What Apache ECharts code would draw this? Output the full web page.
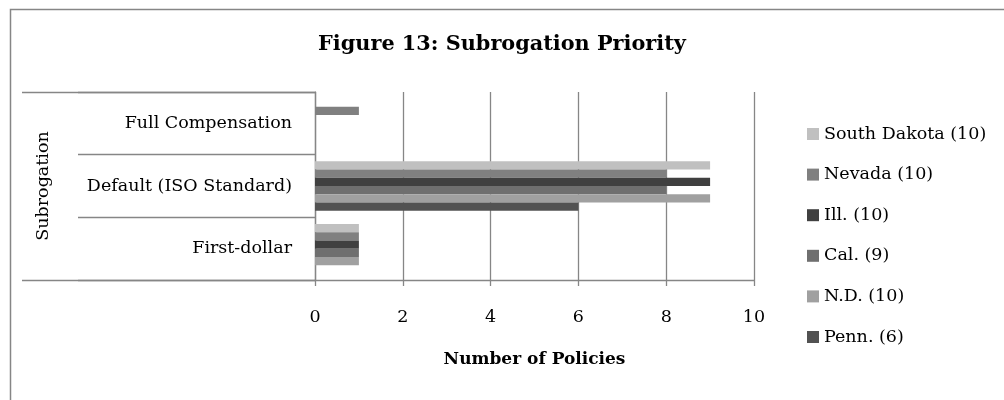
<!DOCTYPE html>
<html>
<head>
<meta charset="utf-8">
<script src="https://cdn.jsdelivr.net/npm/echarts@6/dist/echarts.min.js"></script>
<style>html,body{margin:0;padding:0;background:#fff}#c{width:1004px;height:400px}</style>
</head>
<body>
<div id="c"></div>
<script>
const categories = ['First-dollar', 'Default (ISO Standard)', 'Full Compensation'];
const seriesNames = ['South Dakota (10)', 'Nevada (10)', 'Ill. (10)', 'Cal. (9)', 'N.D. (10)', 'Penn. (6)'];
const southDakota = [1, 9, 0];
const nevada = [1, 8, 1];
const ill = [1, 9, 0];
const cal = [1, 8, 0];
const nd = [1, 9, 0];
const penn = [0, 6, 0];
const xTicks = [0, 10, 2];
const titleText = 'Figure 13: Subrogation Priority';
const xName = 'Number of Policies';
const groupName = 'Subrogation';

const values = [southDakota, nevada, ill, cal, nd, penn];
const colors = ['#c0c0c0', '#808080', '#404040', '#6f6f6f', '#a0a0a0', '#525252'];
const lineColor = '#868686';
const font = 'DejaVu Serif';
const fs = 17.5;

const chart = echarts.init(document.getElementById('c'), null, {renderer: 'canvas'});
chart.setOption({
  animation: false,
  backgroundColor: '#fff',
  textStyle: {fontFamily: font},
  title: {
    text: titleText, left: 'center', top: 34, padding: [0, 0, 0, 21],
    textStyle: {fontFamily: font, fontWeight: 'bold', fontSize: 20.8, color: '#000'}
  },
  graphic: [{
    type: 'rect', left: 8, top: 7, shape: {width: 1200, height: 600},
    style: {fill: 'none', stroke: lineColor, lineWidth: 1.5}, silent: true
  }],
  legend: {
    orient: 'vertical', left: 807, top: 125, padding: 0, itemWidth: 12, itemHeight: 12, itemGap: 22.6,
    icon: 'rect',
    data: seriesNames,
    textStyle: {fontFamily: font, fontSize: fs, color: '#000', lineHeight: 17}
  },
  grid: {left: 315, right: 250, top: 92, bottom: 120, containLabel: false},
  xAxis: {
    type: 'value', min: xTicks[0], max: xTicks[1], interval: xTicks[2],
    name: xName, nameLocation: 'middle', nameGap: 71,
    nameTextStyle: {fontFamily: font, fontWeight: 'bold', fontSize: 17, color: '#000'},
    axisLine: {show: true, lineStyle: {color: lineColor, width: 1.3}},
    axisTick: {show: true, length: 6, lineStyle: {color: lineColor, width: 1.3}},
    axisLabel: {margin: 28, fontFamily: font, fontSize: fs, color: '#000'},
    splitLine: {show: true, lineStyle: {color: lineColor, width: 1.3}}
  },
  yAxis: [{
    type: 'category', data: categories,
    axisLine: {show: true, lineStyle: {color: lineColor, width: 1.3}},
    axisTick: {show: true, interval: 0, length: 237, lineStyle: {color: lineColor, width: 1.3}},
    axisLabel: {margin: 23, fontFamily: font, fontSize: fs, color: '#000', interval: 0},
    splitLine: {show: false}
  }, {
    type: 'category', data: [groupName], position: 'left', offset: 0,
    axisLine: {show: false},
    axisTick: {show: true, interval: 0, length: 293, lineStyle: {color: lineColor, width: 1.3}},
    axisLabel: {margin: 263, rotate: 90, fontFamily: font, fontSize: fs, color: '#000'},
    splitLine: {show: false}
  }],
  series: seriesNames.map((n, i) => ({
    name: n, type: 'bar', yAxisIndex: 0, data: values[i],
    itemStyle: {color: colors[i]},
    barGap: '0%', barCategoryGap: '21%'
  }))
});
</script>
</body>
</html>
